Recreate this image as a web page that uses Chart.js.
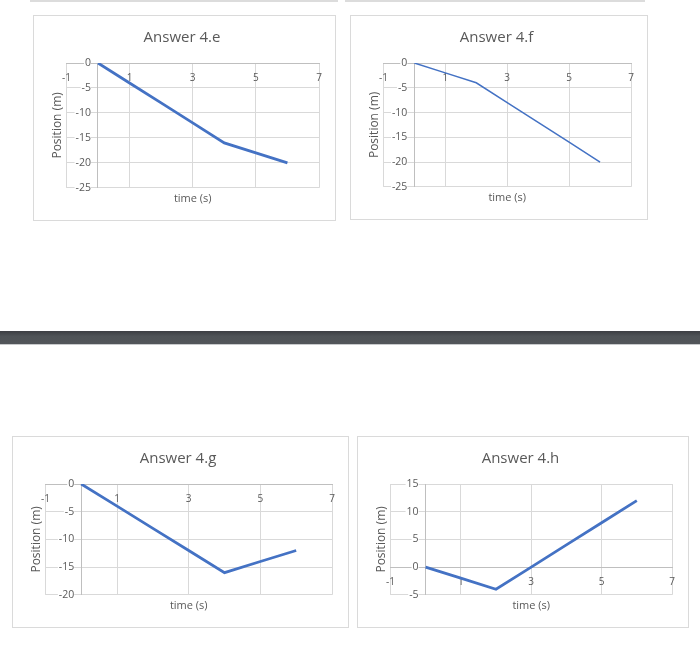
<!DOCTYPE html>
<html>
<head>
<meta charset="utf-8">
<script src="https://cdn.jsdelivr.net/npm/chart.js@4.4.1/dist/chart.umd.min.js"></script>
<style>
  body { margin: 0; background: #fff; width: 700px; height: 647px; position: relative; overflow: hidden; }
  .box { position: absolute; border: 1px solid #dadada; background: #fff; box-sizing: border-box; }
  .edge { position: absolute; top: 0; height: 2px; background: #dcdcdc; }
  .bar { position: absolute; left: 0; width: 700px; top: 331px; height: 13px;
         background: linear-gradient(#3c3e43, #4f5357 40%, #52565a); border-bottom: 1px solid #c8cacc; }
</style>
</head>
<body>
<div class="edge" style="left:30px;width:308px"></div>
<div class="edge" style="left:345px;width:300px"></div>

<div class="box" style="left:33px;top:15px;width:303px;height:206px"><canvas id="chartE" width="301" height="204"></canvas></div>
<div class="box" style="left:350px;top:15px;width:298px;height:205px"><canvas id="chartF" width="296" height="203"></canvas></div>

<div class="bar"></div>

<div class="box" style="left:12px;top:436px;width:337px;height:192px"><canvas id="chartG" width="335" height="190"></canvas></div>
<div class="box" style="left:357px;top:436px;width:332px;height:192px"><canvas id="chartH" width="330" height="190"></canvas></div>

<script>
// time values shared by all four answers
const times = [0, 1, 2, 3, 4, 5, 6];

// position readings for each answer
const posE = [0, -4, -8, -12, -16, -18, -20];
const posF = [0, -2, -4, -8, -12, -16, -20];
const posG = [0, -4, -8, -12, -16, -14, -12];
const posH = [0, -2, -4, 0, 4, 8, 12];

// axis ranges
const xRange = [-1, 7];
const yRangeE = [-25, 0];
const yRangeF = [-25, 0];
const yRangeG = [-20, 0];
const yRangeH = [-5, 15];

Chart.defaults.font.family = "'Open Sans', sans-serif";
Chart.defaults.color = '#595959';

const textGray = '#595959';
const gridGray = '#d9d9d9';

const makeChart = (id, title, values, yRange, lineWidth) => {
    const points = times.map((t, i) => ({ x: t, y: values[i] }));
    return new Chart(document.getElementById(id), {
        type: 'scatter',
        data: {
            datasets: [{
                data: points,
                showLine: true,
                borderColor: '#4472c4',
                borderWidth: lineWidth,
                pointRadius: 0,
                fill: false,
            }],
        },
        options: {
            responsive: false,
            animation: false,
            layout: { padding: { left: 11, right: 16, top: 13, bottom: 11 } },
            plugins: {
                legend: { display: false },
                tooltip: { enabled: false },
                title: {
                    display: true,
                    text: title,
                    color: textGray,
                    font: { size: 15, weight: 'normal' },
                    padding: { top: 0, bottom: 16 },
                },
            },
            scales: {
                x: {
                    type: 'linear',
                    position: { y: 0 },
                    min: xRange[0],
                    max: xRange[1],
                    ticks: { stepSize: 2, color: textGray, font: { size: 10 }, padding: 9 },
                    grid: { color: gridGray, drawTicks: false },
                    border: { color: '#bfbfbf' },
                },
                y: {
                    type: 'linear',
                    position: { x: 0 },
                    min: yRange[0],
                    max: yRange[1],
                    ticks: {
                        stepSize: 5, color: textGray, font: { size: 10.5 },
                        // trailing spaces keep the labels off the axis line
                        callback: (v) => v + '\u2002\u2009',
                        showLabelBackdrop: true, backdropColor: '#ffffff',
                        backdropPadding: { left: 1, right: -7, top: 0, bottom: 0 },
                    },
                    grid: { color: gridGray, drawTicks: false },
                    border: { color: '#bfbfbf' },
                },
                // title-only axes so the axis names sit outside the plot like Excel
                xt: {
                    type: 'linear',
                    position: 'bottom',
                    ticks: { display: false },
                    grid: { display: false, drawTicks: false },
                    border: { display: false },
                    title: { display: true, text: 'time (s)', color: textGray, font: { size: 11 }, padding: { top: 4, bottom: 4 } },
                },
                yt: {
                    type: 'linear',
                    position: 'left',
                    ticks: { display: false },
                    grid: { display: false, drawTicks: false },
                    border: { display: false },
                    title: { display: true, text: 'Position (m)', color: textGray, font: { size: 12 }, padding: { top: 5, bottom: 2 } },
                },
            },
        },
    });
};

makeChart('chartE', 'Answer 4.e', posE, yRangeE, 2.75);
makeChart('chartF', 'Answer 4.f', posF, yRangeF, 1.5);
makeChart('chartG', 'Answer 4.g', posG, yRangeG, 2.75);
makeChart('chartH', 'Answer 4.h', posH, yRangeH, 2.75);
</script>
</body>
</html>
